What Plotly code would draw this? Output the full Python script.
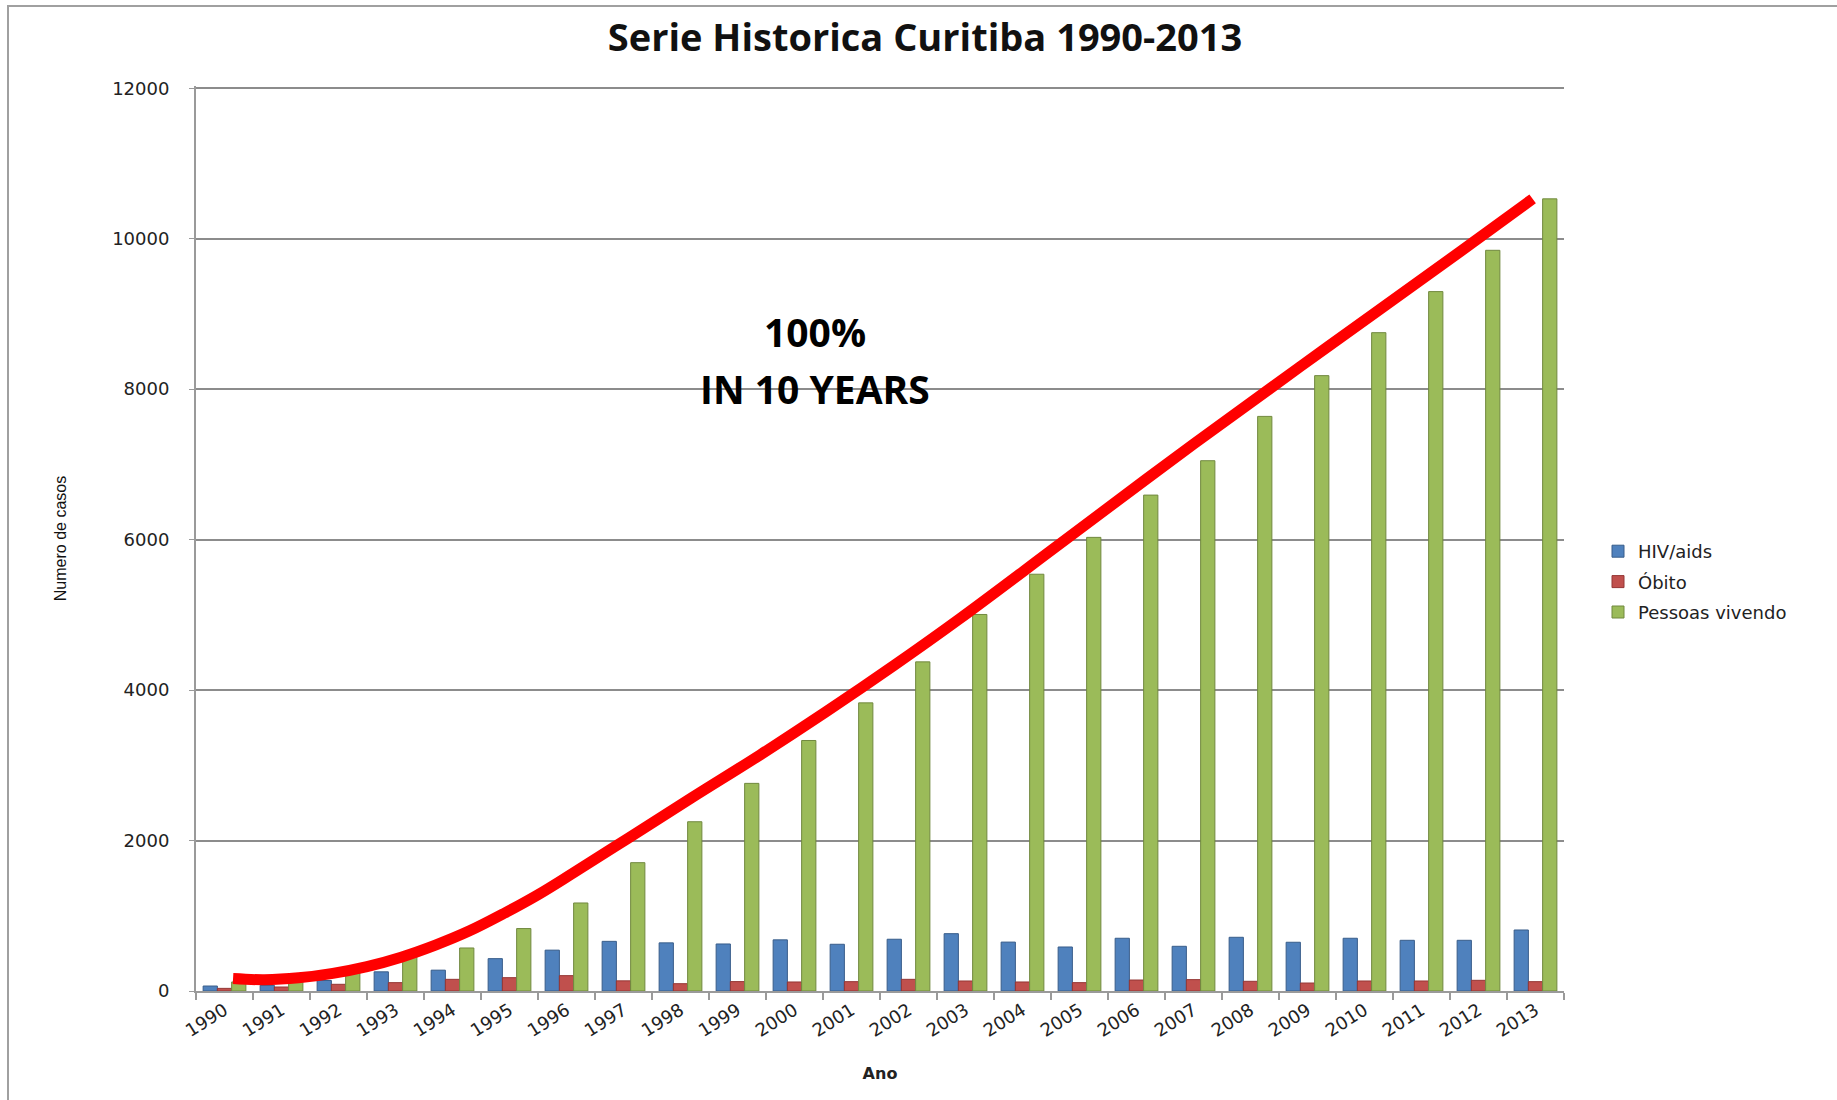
import plotly.graph_objects as go

# ---------------- data ----------------
years = [str(y) for y in range(1990, 2014)]
hiv_aids = [66, 75, 140, 255, 277, 430, 543, 660, 640, 625, 680, 621,
            688, 762, 650, 585, 701, 594, 714, 648, 701, 674, 674, 811]
obito = [35, 53, 89, 111, 155, 177, 204, 135, 97, 125, 120, 124,
         155, 133, 120, 111, 146, 151, 129, 106, 133, 133, 142, 124]
pessoas_vivendo = [120, 180, 260, 460, 572, 830, 1170, 1706, 2250, 2760, 3330, 3830,
                   4375, 5005, 5540, 6030, 6592, 7049, 7638, 8180, 8751, 9297, 9846, 10530]

# hand-drawn red trend curve (year position, value)
trend_x = [1990.15, 1990.7, 1991.3, 1991.9, 1992.5, 1993.1, 1993.7, 1994.3, 1994.9,
           1995.5, 1996.1, 1997.1, 1998.2, 1999.4, 2000.55, 2001.75, 2002.9,
           2004.65, 2007.0, 2009.35, 2011.7, 2012.95]
trend_y = [165, 150, 175, 235, 325, 450, 610, 800, 1030,
           1280, 1560, 2040, 2570, 3140, 3710, 4330, 4950,
           5940, 7270, 8560, 9840, 10530]

y_ticks = [0, 2000, 4000, 6000, 8000, 10000, 12000]

# ---------------- figure ----------------
W, H = 1837, 1100
ML, MR, MT, MB = 196, 273, 86, 109
PW, PH = W - ML - MR, H - MT - MB


def px_x(p):
    return (p - ML) / PW


def px_y(p):
    return (H - MB - p) / PH


tick_font = dict(family="DejaVu Sans, Verdana, sans-serif", size=18, color="#222222")

fig = go.Figure()
fig.add_bar(name="HIV/aids", x=years, y=hiv_aids, legendgroup="g1",
            marker=dict(color="#4F81BD", line=dict(color="#385D8A", width=1)))
fig.add_bar(name="Óbito", x=years, y=obito, legendgroup="g2",
            marker=dict(color="#C0504D", line=dict(color="#943634", width=1)))
fig.add_bar(name="Pessoas vivendo", x=years, y=pessoas_vivendo, legendgroup="g3",
            marker=dict(color="#9BBB59", line=dict(color="#71893F", width=1)))
fig.add_scatter(x=trend_x, y=trend_y, xaxis="x2", yaxis="y", mode="lines",
                line=dict(color="#FF0000", width=11, shape="spline", smoothing=1.0),
                showlegend=False, hoverinfo="skip")

fig.update_layout(
    width=W, height=H,
    margin=dict(l=ML, r=MR, t=MT, b=MB),
    paper_bgcolor="white", plot_bgcolor="white",
    barmode="group", bargap=0.25, bargroupgap=0.0,
    title=dict(text="<b>Serie Historica Curitiba 1990-2013</b>",
               x=925 / W, xref="container", xanchor="center",
               y=1 - 38 / H, yref="container", yanchor="middle",
               font=dict(family="Open Sans, sans-serif", size=38, color="#111111")),
    xaxis=dict(type="category", showline=True, linecolor="#9a9a9a", linewidth=2,
               ticks="outside", tickson="boundaries", ticklen=7, tickcolor="#9a9a9a",
               tickwidth=1.5, tickangle=-32, tickfont=tick_font, showgrid=False,
               title=dict(text="<b>Ano</b>", standoff=28,
                          font=dict(family="DejaVu Sans, sans-serif", size=16, color="#222222"))),
    xaxis2=dict(overlaying="x", range=[1989.5, 2013.5], visible=False, showgrid=False),
    yaxis=dict(range=[0, 12030], tickvals=y_ticks, ticktext=[str(v) for v in y_ticks],
               showgrid=True, gridcolor="#8c8c8c", gridwidth=1.5, zeroline=False,
               showline=True, linecolor="#9a9a9a", linewidth=2,
               ticks="outside", ticklen=5, tickcolor="#9a9a9a", ticklabelstandoff=16,
               tickfont=tick_font,
               title=dict(text="Numero de casos", standoff=42,
                          font=dict(family="Liberation Sans Narrow, Liberation Sans, sans-serif",
                                    size=16, color="#111111"))),
    legend=dict(x=px_x(1598), xanchor="left", y=px_y(533), yanchor="top",
                traceorder="grouped", tracegroupgap=4,
                font=dict(family="DejaVu Sans, Verdana, sans-serif", size=18, color="#222222"),
                bgcolor="rgba(0,0,0,0)"),
    annotations=[
        dict(text="<b>100%</b>", x=px_x(815), y=px_y(331), xref="paper", yref="paper",
             showarrow=False, xanchor="center", yanchor="middle",
             font=dict(family="Open Sans, sans-serif", size=39, color="black")),
        dict(text="<b>IN 10 YEARS</b>", x=px_x(815), y=px_y(388), xref="paper", yref="paper",
             showarrow=False, xanchor="center", yanchor="middle",
             font=dict(family="Open Sans, sans-serif", size=39, color="black")),
    ],
    shapes=[
        # outer frame of the original picture (left and top edges visible)
        dict(type="rect", xref="paper", yref="paper",
             x0=px_x(8), x1=px_x(W + 20), y0=px_y(H + 20), y1=px_y(6),
             line=dict(color="#a0a0a0", width=2), fillcolor="rgba(0,0,0,0)", layer="above"),
        # small white break in the gridlines of the original picture
        dict(type="rect", xref="paper", yref="paper",
             x0=px_x(969), x1=px_x(977), y0=px_y(550), y1=px_y(222),
             line=dict(width=0), fillcolor="white", layer="between"),
    ],
)

fig.write_html("out.html")
